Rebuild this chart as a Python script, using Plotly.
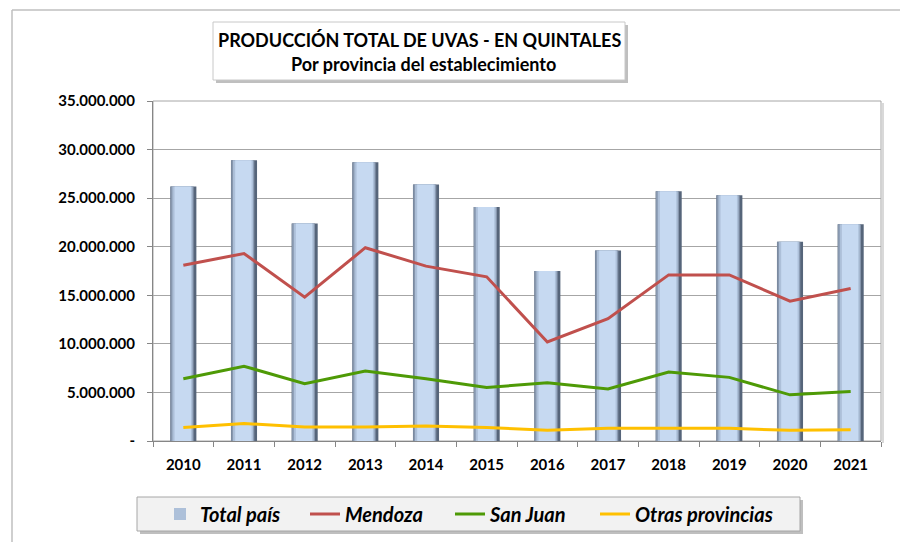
import plotly.graph_objects as go

years = ["2010", "2011", "2012", "2013", "2014", "2015", "2016", "2017", "2018", "2019", "2020", "2021"]
total_pais = [26200000, 28900000, 22400000, 28700000, 26400000, 24100000, 17500000, 19600000, 25700000, 25300000, 20500000, 22300000]
mendoza = [18100000, 19300000, 14800000, 19900000, 18000000, 16900000, 10200000, 12600000, 17100000, 17100000, 14400000, 15700000]
san_juan = [6400000, 7700000, 5900000, 7200000, 6400000, 5500000, 6000000, 5350000, 7100000, 6550000, 4750000, 5100000]
otras = [1380000, 1800000, 1450000, 1450000, 1550000, 1400000, 1100000, 1300000, 1300000, 1300000, 1100000, 1150000]

y_ticks = [0, 5000000, 10000000, 15000000, 20000000, 25000000, 30000000, 35000000]
y_tick_text = ["-", "5.000.000", "10.000.000", "15.000.000", "20.000.000", "25.000.000", "30.000.000", "35.000.000"]

OFF = 8  # page body margin
W, H = 908 - OFF, 542 - OFF
L, R, T, B = 153, 881, 101, 441  # target page coordinates of plot area
FONT = "Lato"

def px(x):
    return (x - L) / (R - L)

def py(y):
    return (B - y) / (B - T)

def cx(x):
    return (x - OFF) / W

def cy(y):
    return (H - (y - OFF)) / H

fig = go.Figure()

layers = [
    (0.43, 0.0, "#56657a", False),
    (0.38, -0.02, "#8797ae", False),
    (0.33, -0.015, "#adc0d9", True),
    (0.27, -0.01, "#c6d9f1", False),
]
for w, off, col, show in layers:
    fig.add_trace(go.Bar(
        x=years, y=total_pais, width=w, offset=-w / 2 + off,
        marker=dict(color=col, line=dict(width=0)),
        name="Total país", showlegend=show, legendgroup="tp",
    ))

fig.add_trace(go.Scatter(x=years, y=mendoza, mode="lines", name="Mendoza",
                         line=dict(color="#c0504d", width=3)))
fig.add_trace(go.Scatter(x=years, y=san_juan, mode="lines", name="San Juan",
                         line=dict(color="#4e9a06", width=3)))
fig.add_trace(go.Scatter(x=years, y=otras, mode="lines", name="Otras provincias",
                         line=dict(color="#ffc000", width=3)))
# invisible spacer entry so the last legend label is not clipped
fig.add_trace(go.Scatter(x=[None], y=[None], mode="lines", name="\u00a0",
                         line=dict(color="rgba(0,0,0,0)", width=0), hoverinfo="skip"))

shapes = []
shapes.append(dict(type="line", xref="paper", yref="paper", x0=px(12), x1=px(12), y0=py(10), y1=py(600),
                   line=dict(color="#bfbfbf", width=1.5)))
shapes.append(dict(type="line", xref="paper", yref="paper", x0=px(12), x1=px(1000), y0=py(10), y1=py(10),
                   line=dict(color="#bfbfbf", width=1.5)))
shapes.append(dict(type="line", xref="paper", yref="paper", x0=px(R + 2), x1=px(R + 2), y0=py(B + 2), y1=py(T + 2),
                   line=dict(color="#d9d9d9", width=2), layer="below"))
shapes.append(dict(type="rect", xref="paper", yref="paper", x0=0, x1=1, y0=0, y1=1,
                   line=dict(color="#a6a6a6", width=1), layer="below"))
shapes.append(dict(type="rect", xref="paper", yref="paper", x0=px(216), x1=px(628), y0=py(83), y1=py(25),
                   fillcolor="#bfbfbf", line=dict(width=0)))
shapes.append(dict(type="rect", xref="paper", yref="paper", x0=px(213), x1=px(625), y0=py(80), y1=py(22),
                   fillcolor="white", line=dict(color="#c8c8c8", width=1)))
shapes.append(dict(type="rect", xref="paper", yref="paper", x0=px(140), x1=px(803), y0=py(534), y1=py(500),
                   fillcolor="#bfbfbf", line=dict(width=0)))
shapes.append(dict(type="rect", xref="paper", yref="paper", x0=px(137), x1=px(800), y0=py(531), y1=py(497),
                   fillcolor="#f2f2f2", line=dict(color="#a6a6a6", width=1)))

annotations = [
    dict(text="PRODUCCIÓN TOTAL DE UVAS - EN QUINTALES", xref="paper", yref="paper",
         x=px(419), y=py(40), xanchor="center", yanchor="middle", showarrow=False,
         font=dict(family=FONT, size=18, color="black", weight="bold")),
    dict(text="Por provincia del establecimiento", xref="paper", yref="paper",
         x=px(423), y=py(64), xanchor="center", yanchor="middle", showarrow=False,
         font=dict(family=FONT, size=18, color="black", weight="bold")),
]

fig.update_layout(
    width=W, height=H,
    margin=dict(l=L - OFF, r=W + OFF - R, t=T - OFF, b=H + OFF - B, pad=0),
    paper_bgcolor="white", plot_bgcolor="white",
    barmode="overlay",
    shapes=shapes, annotations=annotations,
    font=dict(family=FONT, color="black"),
    legend=dict(orientation="h", xref="container", yref="container",
                x=cx(160), y=cy(514), xanchor="left", yanchor="middle",
                bgcolor="rgba(0,0,0,0)", borderwidth=0,
                entrywidth=100, entrywidthmode="pixels",
                font=dict(family=FONT, size=20, color="black", weight="bold", style="italic"),
                itemwidth=30, tracegroupgap=0),
    xaxis=dict(type="category", showgrid=False, showline=True, linecolor="#868686", linewidth=1,
               ticks="outside", ticklen=5, tickcolor="#868686", tickson="boundaries",
               tickfont=dict(family=FONT, size=15, color="black", weight="bold"),
               ticklabelstandoff=10, fixedrange=True),
    yaxis=dict(range=[0, 35000000], tickvals=y_ticks, ticktext=y_tick_text,
               showgrid=True, gridcolor="#a6a6a6", gridwidth=1,
               showline=True, linecolor="#868686", linewidth=1,
               ticks="outside", ticklen=5, tickcolor="#868686",
               tickfont=dict(family=FONT, size=15, color="black", weight="bold"),
               ticklabelstandoff=9, zeroline=False, fixedrange=True),
)

fig.write_html("out.html")
